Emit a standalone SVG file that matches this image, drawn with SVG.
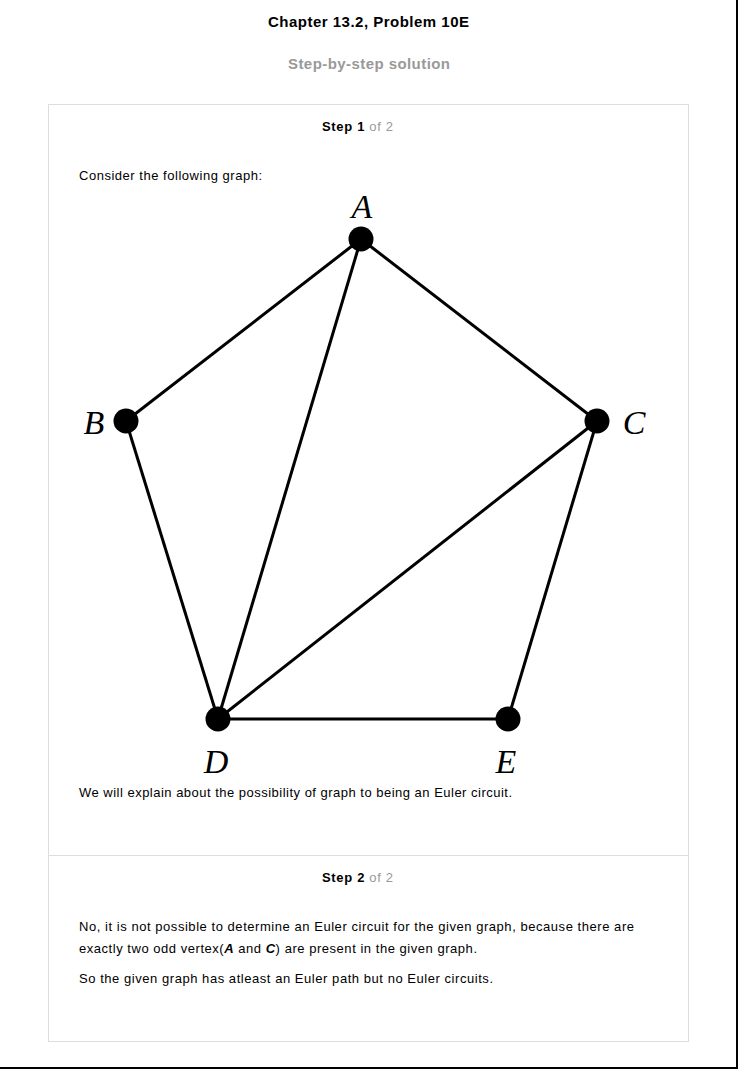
<svg xmlns="http://www.w3.org/2000/svg" width="738" height="1069" viewBox="0 0 738 1069">
<style>
.t{font-family:"Liberation Sans",Arial,sans-serif;font-size:13px;fill:#000}
.h{font-family:"Liberation Sans",Arial,sans-serif;font-weight:bold;text-anchor:middle}
.g{fill:#999;font-weight:normal}
.lbl{font-family:"Liberation Serif","Times New Roman",serif;font-style:italic;font-size:34px;fill:#000;text-anchor:middle}
.e{stroke:#000;stroke-width:3;fill:none}
.v{fill:#000}
</style>
<rect x="0" y="0" width="738" height="1069" fill="#fff"/>
<line x1="737" y1="0" x2="737" y2="1069" stroke="#000" stroke-width="2"/>
<line x1="0" y1="1068" x2="738" y2="1068" stroke="#000" stroke-width="2"/>
<g id="header">
<text class="h" x="368.5" y="27" font-size="15" textLength="201" lengthAdjust="spacing">Chapter 13.2, Problem 10E</text>
<text class="h" x="369" y="69" font-size="15" fill="#999" textLength="162" lengthAdjust="spacing">Step-by-step solution</text>
</g>
<rect x="48.5" y="104.5" width="640" height="937" fill="none" stroke="#ddd"/>
<line x1="48" y1="855.5" x2="689" y2="855.5" stroke="#ddd"/>
<g id="step1">
<text class="h" x="357.5" y="131" font-size="13" textLength="71" lengthAdjust="spacing">Step 1 <tspan class="g">of 2</tspan></text>
<text class="t" x="79" y="180" textLength="183" lengthAdjust="spacing">Consider the following graph:</text>
<text class="t" x="79" y="797" textLength="433" lengthAdjust="spacing">We will explain about the possibility of graph to being an Euler circuit.</text>
</g>
<g id="edges">
<line class="e" x1="361" y1="239" x2="126" y2="421"/>
<line class="e" x1="361" y1="239" x2="597" y2="421"/>
<line class="e" x1="361" y1="239" x2="218" y2="719"/>
<line class="e" x1="126" y1="421" x2="218" y2="719"/>
<line class="e" x1="597" y1="421" x2="218" y2="719"/>
<line class="e" x1="597" y1="421" x2="508" y2="719"/>
<line class="e" x1="218" y1="719" x2="508" y2="719"/>
</g>
<g id="A"><circle class="v" cx="361" cy="239" r="12.5"/><text class="lbl" x="362" y="218">A</text></g>
<g id="B"><circle class="v" cx="126" cy="421" r="12.5"/><text class="lbl" x="94" y="434">B</text></g>
<g id="C"><circle class="v" cx="597" cy="421" r="12.5"/><text class="lbl" x="634" y="434">C</text></g>
<g id="D"><circle class="v" cx="218" cy="719" r="12.5"/><text class="lbl" x="216" y="773">D</text></g>
<g id="E"><circle class="v" cx="508" cy="719" r="12.5"/><text class="lbl" x="506" y="773">E</text></g>
<g id="step2">
<text class="h" x="357.5" y="882" font-size="13" textLength="71" lengthAdjust="spacing">Step 2 <tspan class="g">of 2</tspan></text>
<text class="t" x="79" y="931" textLength="555" lengthAdjust="spacing">No, it is not possible to determine an Euler circuit for the given graph, because there are</text>
<text class="t" x="79" y="953" textLength="398" lengthAdjust="spacing">exactly two odd vertex(<tspan font-weight="bold" font-style="italic">A</tspan> and <tspan font-weight="bold" font-style="italic">C</tspan>) are present in the given graph.</text>
<text class="t" x="79" y="983" textLength="414" lengthAdjust="spacing">So the given graph has atleast an Euler path but no Euler circuits.</text>
</g>
</svg>
